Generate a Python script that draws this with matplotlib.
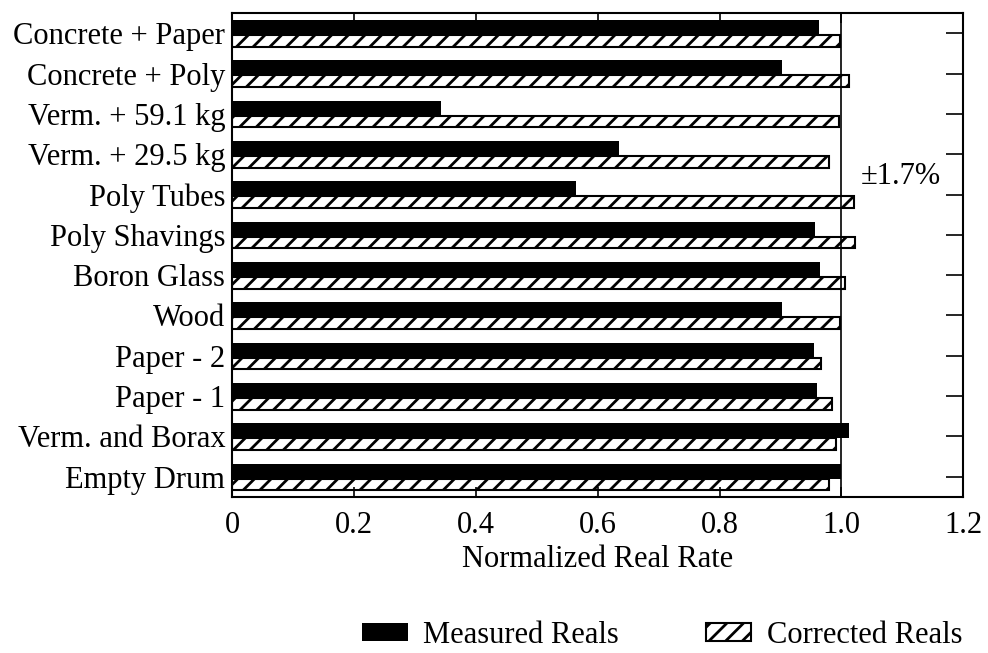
import numpy as np
import matplotlib
matplotlib.use("Agg")
import matplotlib.pyplot as plt

# categories listed top to bottom
categories = ["Concrete + Paper", "Concrete + Poly", "Verm. + 59.1 kg",
              "Verm. + 29.5 kg", "Poly Tubes", "Poly Shavings", "Boron Glass",
              "Wood", "Paper - 2", "Paper - 1", "Verm. and Borax", "Empty Drum"]
measured = [0.963, 0.902, 0.342, 0.635, 0.564, 0.956, 0.964,
            0.903, 0.955, 0.960, 1.012, 1.000]
corrected = [0.998, 1.013, 0.996, 0.980, 1.021, 1.023, 1.006,
             0.997, 0.966, 0.984, 0.991, 0.980]
xticks = [0, 0.2, 0.4, 0.6, 0.8, 1.0, 1.2]
xticklabels = ["0", "0.2", "0.4", "0.6", "0.8", "1.0", "1.2"]

plt.rcParams['font.family'] = ['Liberation Serif', 'DejaVu Serif']
plt.rcParams['hatch.linewidth'] = 2.0
plt.rcParams['hatch.color'] = 'black'
FS = 22

fig = plt.figure(figsize=(9.88, 6.53), dpi=100)
ax = fig.add_axes([0.235, 0.239, 0.740, 0.741])

y = np.arange(len(categories))
ax.barh(y - 0.14, measured, height=0.37, color='black', label='Measured Reals')
ax.barh(y + 0.19, corrected, height=0.29, facecolor='white', edgecolor='black',
        linewidth=1.5, hatch='//', label='Corrected Reals')

ax.axvline(1.0, color='black', linewidth=1.2)
ax.text(1.032, 3.55, "\u00b11.7%", fontsize=FS, va='center', ha='left')

ax.set_xlim(0, 1.2)
ax.set_ylim(len(categories) - 0.5, -0.5)
ax.set_xticks(xticks)
ax.set_xticklabels(xticklabels, fontsize=FS)
ax.set_yticks(y)
ax.set_yticklabels(categories, fontsize=FS)
ax.tick_params(axis='x', direction='in', top=True, length=7, width=1.2, pad=10)
ax.tick_params(axis='y', direction='in', right=True, length=12, width=1.2, pad=5)
for s in ax.spines.values():
    s.set_linewidth(1.5)

ax.set_xlabel("Normalized Real Rate", fontsize=FS, labelpad=4)

fig.legend(loc='center', bbox_to_anchor=(0.670, 0.027), ncol=2, frameon=False,
           fontsize=FS, handlelength=1.5, handleheight=0.5, handletextpad=0.5,
           columnspacing=2.85, borderaxespad=0, borderpad=0)

fig.savefig("out.png", dpi=100)
